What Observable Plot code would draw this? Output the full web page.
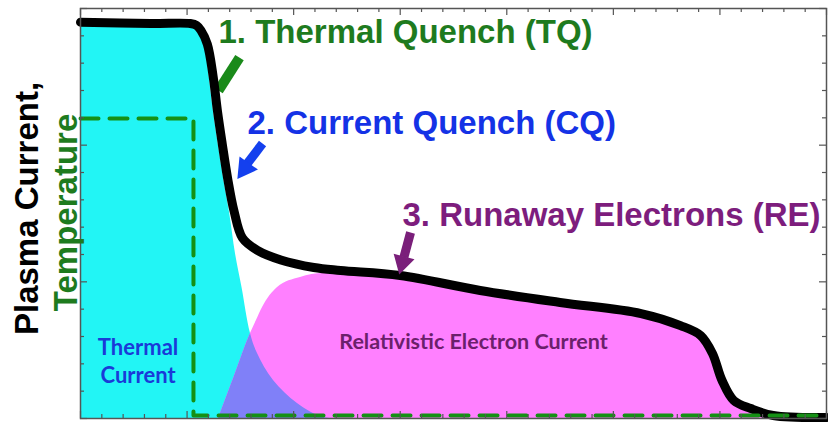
<!DOCTYPE html>
<html><head><meta charset="utf-8">
<script src="https://cdn.jsdelivr.net/npm/d3@7"></script>
<script src="https://cdn.jsdelivr.net/npm/@observablehq/plot@0.6"></script>
<style>body{margin:0;background:#fff} #chart{width:828px;height:423px}</style>
</head><body><div id="chart"></div>
<script>
// Plasma current (black line)
const plasmaT = [0, 0.66, 1.03, 1.09, 1.13, 1.19, 1.245, 1.285, 1.33, 1.38, 1.44, 1.52, 1.66, 1.88, 2.19, 2.44, 3.00, 3.75, 4.50, 5.26, 5.63, 5.82, 5.93, 6.02, 6.13, 6.29, 6.50, 7.00];
const plasmaI = [2.90, 2.89, 2.89, 2.876, 2.84, 2.74, 2.50, 2.25, 2.01, 1.76, 1.52, 1.32, 1.23, 1.16, 1.105, 1.083, 1.046, 0.937, 0.849, 0.768, 0.680, 0.607, 0.476, 0.278, 0.132, 0.073, 0.022, 0.007];
// Thermal current (cyan area)
const thermalT = [0, 1.03, 1.09, 1.135, 1.173, 1.208, 1.247, 1.292, 1.342, 1.40, 1.454, 1.515, 1.595, 1.661, 1.811, 2.036, 2.28, 2.44];
const thermalI = [2.87, 2.87, 2.846, 2.795, 2.707, 2.50, 2.25, 2.01, 1.76, 1.50, 1.207, 0.96, 0.622, 0.476, 0.278, 0.110, 0.007, 0];
// Relativistic electron current (magenta area)
const reT = [1.295, 1.445, 1.595, 1.651, 1.708, 1.849, 2.064, 2.28, 2.505, 3.003, 3.753, 4.504, 5.255, 5.63, 5.818, 5.93, 6.024, 6.127, 6.287, 6.503];
const reI = [0, 0.311, 0.622, 0.717, 0.812, 0.959, 1.032, 1.061, 1.061, 1.046, 0.937, 0.849, 0.768, 0.680, 0.607, 0.476, 0.278, 0.132, 0.073, 0.0];
// Temperature (green dashed)
const tempT = [0, 1.06, 1.06, 7];
const tempV = [2.195, 2.195, 0.022, 0.022];
// Axis ticks (no labels)
const xMajor = d3.range(0, 7.001, 1);
const xMinor = d3.range(0, 7.001, 0.2).filter(v => Math.abs(v - Math.round(v)) > 1e-6);
const yMajor = d3.range(0, 3.001, 1);
const yMinor = d3.range(0, 3.001, 0.2).filter(v => Math.abs(v - Math.round(v)) > 1e-6);

const toRows = (T, V) => T.map((t, i) => ({t, v: V[i]}));
const plasma = toRows(plasmaT, plasmaI);
const thermal = toRows(thermalT, thermalI);
const re = toRows(reT, reI);
const temp = toRows(tempT, tempV);

const W = 828, H = 423, mt = 8, mr = 2, mb = 5, ml = 80;
const fw = W - ml - mr, fh = H - mt - mb;
const bold = "'Liberation Sans', Arial, sans-serif";
const round = "Lato, 'Open Sans', sans-serif";

const svg = Plot.plot({
  width: W, height: H,
  marginTop: mt, marginRight: mr, marginBottom: mb, marginLeft: ml,
  x: {domain: [0, 7], axis: null},
  y: {domain: [0, 3], axis: null},
  marks: [
    Plot.areaY(thermal, {x: "t", y: "v", fill: "#22f5f5", curve: "catmull-rom"}),
    Plot.areaY(re, {x: "t", y: "v", fill: "#ff80ff", curve: "monotone-x"}),
    Plot.link([0], {x1: 1.492, y1: 2.641, x2: 1.295, y2: 2.400, stroke: "#1a8a1a", strokeWidth: 10}),
    Plot.line(plasma, {x: "t", y: "v", stroke: "#000", strokeWidth: 9, curve: "catmull-rom", strokeLinejoin: "round"}),
    Plot.line(temp, {x: "t", y: "v", stroke: "#159015", strokeWidth: 4, strokeDasharray: "18,11"}),
    // arrows
    Plot.link([0], {x1: 1.708, y1: 2.012, x2: 1.560, y2: 1.860, stroke: "#1440ee", strokeWidth: 9}),
    Plot.dot([0], {x: 1.543, y: 1.831, symbol: "triangle", r: 8.4, fill: "#1440ee", rotate: 215.5}),
    Plot.link([0], {x1: 3.097, y1: 1.361, x2: 3.035, y2: 1.181, stroke: "#7a1f7a", strokeWidth: 9}),
    Plot.dot([0], {x: 3.021, y: 1.141, symbol: "triangle", r: 8, fill: "#7a1f7a", rotate: 195}),
    // frame & ticks
    Plot.frame({stroke: "#555", strokeWidth: 1.5}),
    Plot.tickX(xMajor, {x: d => d, insetTop: fh - 7, stroke: "#555", strokeWidth: 1.2}),
    Plot.tickX(xMinor, {x: d => d, insetTop: fh - 4, stroke: "#555", strokeWidth: 1.2}),
    Plot.tickX(xMajor, {x: d => d, insetBottom: fh - 7, stroke: "#555", strokeWidth: 1.2}),
    Plot.tickX(xMinor, {x: d => d, insetBottom: fh - 4, stroke: "#555", strokeWidth: 1.2}),
    Plot.tickY(yMajor, {y: d => d, insetRight: fw - 7, stroke: "#555", strokeWidth: 1.2}),
    Plot.tickY(yMinor, {y: d => d, insetRight: fw - 4, stroke: "#555", strokeWidth: 1.2}),
    Plot.tickY(yMajor, {y: d => d, insetLeft: fw - 7, stroke: "#555", strokeWidth: 1.2}),
    Plot.tickY(yMinor, {y: d => d, insetLeft: fw - 4, stroke: "#555", strokeWidth: 1.2}),
    // titles
    Plot.text(["1. Thermal Quench (TQ)"], {text: d => d, x: 1.295, y: 2.744, textAnchor: "start", lineAnchor: "bottom", fontSize: 33, fontWeight: "bold", fontFamily: bold, fill: "#1e7b1e"}),
    Plot.text(["2. Current Quench (CQ)"], {text: d => d, x: 1.567, y: 2.085, textAnchor: "start", lineAnchor: "bottom", fontSize: 33, fontWeight: "bold", fontFamily: bold, fill: "#1432e6"}),
    Plot.text(["3. Runaway Electrons (RE)"], {text: d => d, x: 3.021, y: 1.412, textAnchor: "start", lineAnchor: "bottom", fontSize: 33, fontWeight: "bold", fontFamily: bold, fill: "#7d1d7d"}),
    Plot.text(["Thermal\nCurrent"], {text: d => d, x: 0.54, y: 0.263, textAnchor: "middle", lineAnchor: "bottom", lineHeight: 1.25, fontSize: 22, fontWeight: "bold", fontFamily: round, fill: "#1a3ad8"}),
    Plot.text(["Relativistic Electron Current"], {text: d => d, x: 3.688, y: 0.505, textAnchor: "middle", lineAnchor: "bottom", fontSize: 21.5, fontWeight: "bold", fontFamily: round, fill: "#6b206b"}),
    // y-axis labels
    Plot.text(["Plasma Current,"], {text: d => d, frameAnchor: "left", dx: -43, dy: -5, rotate: -90, textAnchor: "middle", lineAnchor: "bottom", fontSize: 33, fontWeight: "bold", fontFamily: bold, fill: "#000"}),
    Plot.text(["Temperature"], {text: d => d, frameAnchor: "left", dx: -4, dy: -1, rotate: -90, textAnchor: "middle", lineAnchor: "bottom", fontSize: 33, fontWeight: "bold", fontFamily: bold, fill: "#1e7b1e"})
  ]
});

// overlap region (thermal ∩ RE) in blue-violet
const ns = "http://www.w3.org/2000/svg";
const areas = svg.querySelectorAll('g[aria-label="area"]');
if (areas.length >= 2) {
  const tPath = areas[0].querySelector("path");
  const rPath = areas[1].querySelector("path");
  const g = areas[1];
  const cp = document.createElementNS(ns, "clipPath");
  cp.setAttribute("id", "reclip");
  const cpp = document.createElementNS(ns, "path");
  cpp.setAttribute("d", rPath.getAttribute("d"));
  cp.appendChild(cpp);
  g.appendChild(cp);
  const ov = document.createElementNS(ns, "path");
  ov.setAttribute("d", tPath.getAttribute("d"));
  ov.setAttribute("fill", "#8080f8");
  ov.setAttribute("clip-path", "url(#reclip)");
  g.appendChild(ov);
}
document.getElementById("chart").appendChild(svg);
</script>
</body></html>
